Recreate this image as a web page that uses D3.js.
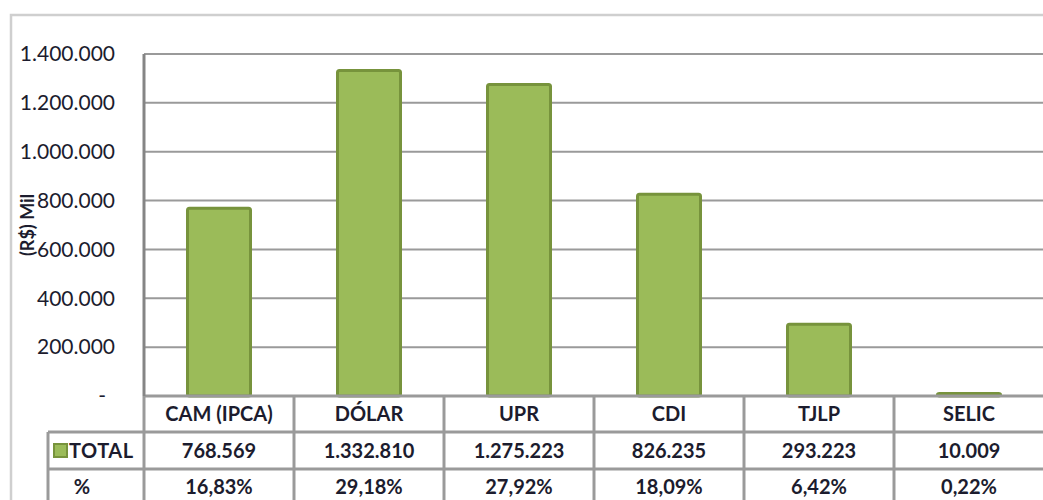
<!DOCTYPE html>
<html>
<head>
<meta charset="utf-8">
<script src="https://cdn.jsdelivr.net/npm/d3@7"></script>
<style>
  body { margin: 0; background: #fff; }
  svg text { font-family: Lato, "Open Sans", sans-serif; fill: #1c1c2e; }
</style>
</head>
<body>
<div id="chart"></div>
<script>
// data
const categories = ['CAM (IPCA)', 'DÓLAR', 'UPR', 'CDI', 'TJLP', 'SELIC'];
const totals = [768569, 1332810, 1275223, 826235, 293223, 10009];
const percents = ['16,83%', '29,18%', '27,92%', '18,09%', '6,42%', '0,22%'];
const yTicks = [0, 200000, 400000, 600000, 800000, 1000000, 1200000, 1400000];

const width = 1043, height = 500;
const margin = { top: 54, left: 144, right: -1, bottom: 104 };

const br = d3.formatLocale({ decimal: ',', thousands: '.', grouping: [3], currency: ['R$', ''] });
const fmt = br.format(',d');

const svg = d3.select('#chart').append('svg')
  .attr('width', width)
  .attr('height', height);

const x = d3.scaleBand()
  .domain(categories)
  .range([margin.left, width - margin.right])
  .paddingInner(0.58)
  .paddingOuter(0.29);

const col = d3.scaleBand()
  .domain(categories)
  .range([margin.left, width - margin.right]);

const y = d3.scaleLinear()
  .domain([0, 1400000])
  .range([height - margin.bottom, margin.top]);

const y0 = y(0);

// outer chart border
svg.append('rect')
  .attr('x', 11).attr('y', 15)
  .attr('width', width + 20).attr('height', height)
  .attr('fill', 'none')
  .attr('stroke', '#cfcfcf')
  .attr('stroke-width', 2.5);

// gridlines
svg.append('g')
  .selectAll('line')
  .data(yTicks.filter(d => d > 0))
  .enter()
  .append('line')
  .attr('x1', margin.left).attr('x2', width)
  .attr('y1', d => y(d)).attr('y2', d => y(d))
  .attr('stroke', '#9a9a9a')
  .attr('stroke-width', 2);

// y axis labels
svg.append('g')
  .selectAll('text')
  .data(yTicks)
  .enter()
  .append('text')
  .attr('x', d => d === 0 ? 106 : 115)
  .attr('y', d => y(d))
  .attr('dy', '0.35em')
  .attr('text-anchor', 'end')
  .style('font-size', '21px')
  .text(d => d === 0 ? '-' : fmt(d));

// axis title
svg.append('text')
  .attr('transform', 'translate(34,225) rotate(-90)')
  .attr('text-anchor', 'middle')
  .style('font-size', '18px')
  .style('font-weight', 'bold')
  .text('(R$) Mil');

// bars
svg.append('g')
  .selectAll('rect')
  .data(totals)
  .enter()
  .append('rect')
  .attr('x', (d, i) => x(categories[i]))
  .attr('y', d => y(d))
  .attr('width', x.bandwidth())
  .attr('height', d => y0 - y(d))
  .attr('rx', 2)
  .attr('fill', '#9bbb59')
  .attr('stroke', '#77933c')
  .attr('stroke-width', 3);

// table lines
const tableLine = '#9a9a9a';
const rowTops = [y0, 432, 469];
svg.append('g')
  .selectAll('line.h')
  .data(rowTops)
  .enter()
  .append('line')
  .attr('x1', (d, i) => i === 0 ? margin.left : 48)
  .attr('x2', width)
  .attr('y1', d => d).attr('y2', d => d)
  .attr('stroke', tableLine)
  .attr('stroke-width', 3);

svg.append('g')
  .selectAll('line.v')
  .data(categories)
  .enter()
  .append('line')
  .attr('x1', d => col(d)).attr('x2', d => col(d))
  .attr('y1', y0).attr('y2', height)
  .attr('stroke', tableLine)
  .attr('stroke-width', 3);

svg.append('line')
  .attr('x1', 48).attr('x2', 48)
  .attr('y1', 432).attr('y2', height)
  .attr('stroke', tableLine)
  .attr('stroke-width', 3);

// y axis line over everything
svg.append('line')
  .attr('x1', margin.left).attr('x2', margin.left)
  .attr('y1', margin.top).attr('y2', y0)
  .attr('stroke', '#858585')
  .attr('stroke-width', 3);

// category header row
const cell = svg.append('g').style('font-weight', 'bold').style('font-size', '20px');
cell.selectAll('text.cat')
  .data(categories)
  .enter()
  .append('text')
  .attr('x', d => col(d) + col.bandwidth() / 2)
  .attr('y', 414)
  .attr('dy', '0.35em')
  .attr('text-anchor', 'middle')
  .text(d => d);

cell.selectAll('text.val')
  .data(totals)
  .enter()
  .append('text')
  .attr('x', (d, i) => col(categories[i]) + col.bandwidth() / 2)
  .attr('y', 451)
  .attr('dy', '0.35em')
  .attr('text-anchor', 'middle')
  .text(d => fmt(d));

cell.selectAll('text.pct')
  .data(percents)
  .enter()
  .append('text')
  .attr('x', (d, i) => col(categories[i]) + col.bandwidth() / 2)
  .attr('y', 487)
  .attr('dy', '0.35em')
  .attr('text-anchor', 'middle')
  .text(d => d);

// legend key and row labels
svg.append('rect')
  .attr('x', 54).attr('y', 444)
  .attr('width', 13).attr('height', 13)
  .attr('fill', '#9bbb59')
  .attr('stroke', '#77933c')
  .attr('stroke-width', 2);

cell.append('text')
  .attr('x', 69).attr('y', 451)
  .attr('dy', '0.35em')
  .style('letter-spacing', '0.5px')
  .text('TOTAL');

cell.append('text')
  .attr('x', 82).attr('y', 487)
  .attr('dy', '0.35em')
  .attr('text-anchor', 'middle')
  .text('%');
</script>
</body>
</html>
